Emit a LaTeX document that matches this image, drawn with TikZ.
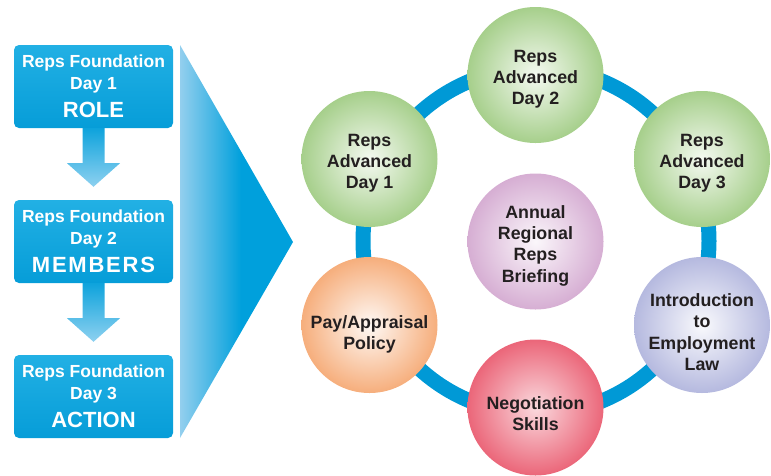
\documentclass[tikz,border=0pt]{standalone}
\usepackage{fontspec}
\setmainfont{Liberation Sans}
\usetikzlibrary{calc}
\definecolor{ringblue}{HTML}{0099D6}
\definecolor{boxtop}{HTML}{22B0E4}
\definecolor{boxbot}{HTML}{069DD8}
\definecolor{chevL}{HTML}{93CFEE}
\definecolor{chevD}{HTML}{00A0DC}
\definecolor{arrT}{HTML}{0EA3DC}
\definecolor{arrB}{HTML}{8ED1F0}
\definecolor{cGreen}{HTML}{A6CF8B}
\definecolor{cPurple}{HTML}{D6AED3}
\definecolor{cOrange}{HTML}{F6AE7C}
\definecolor{cLav}{HTML}{B5B9DF}
\definecolor{cRed}{HTML}{EB6679}
\definecolor{txt}{HTML}{231F20}
\pgfdeclarehorizontalshading{chevshade}{100bp}{color(0bp)=(chevL); color(25bp)=(chevL); color(52bp)=(chevD); color(100bp)=(chevD)}
\tikzset{
  fbox/.style={rounded corners=5pt, minimum width=159pt, minimum height=83pt,
    top color=boxtop, bottom color=boxbot, text=white, align=center,
    font=\fontsize{17.5}{22}\selectfont\bfseries, inner sep=0pt},
  bubble/.style={circle, minimum size=136pt, inner sep=0pt, align=center,
    text=txt, font=\fontsize{17.8}{21.3}\selectfont\bfseries},
  green/.style={bubble, inner color=cGreen!12!white, outer color=cGreen},
  purple/.style={bubble, inner color=cPurple!10!white, outer color=cPurple},
  orange/.style={bubble, inner color=cOrange!8!white, outer color=cOrange},
  lav/.style={bubble, inner color=cLav!8!white, outer color=cLav},
  red/.style={bubble, inner color=cRed!25!white, outer color=cRed},
  downarrow/.style={top color=arrT, bottom color=arrB, draw=none}
}
\newcommand{\bigword}[1]{{\fontsize{22}{22}\selectfont #1}}
\newcommand{\padtop}[1]{\rule{0pt}{#1}}
\begin{document}
\begin{tikzpicture}[x=1pt,y=-1pt]
\useasboundingbox (0,0) rectangle (771,475);
% chevron
\coordinate (cA) at (180,45);
\coordinate (cB) at (293,242);
\coordinate (cC) at (180,438);
\shade[shading=chevshade] (cA) -- (cB) -- (cC) -- cycle;
% foundation boxes
\node[fbox] (f1) at (93.5,86.5) {Reps Foundation\\Day 1\\[6pt]\bigword{ROLE}};
\node[fbox] (f2) at (93.5,241.5) {Reps Foundation\\Day 2\\[6pt]\bigword{\addfontfeature{LetterSpace=8}MEMBERS}};
\node[fbox] (f3) at (93.5,396.5) {Reps Foundation\\Day 3\\[6pt]\bigword{ACTION}};
% arrows
\foreach \a/\b in {f1/f2, f2/f3}{
  \shade[downarrow] ($(\a.south)+(-11,0)$) -- ($(\a.south)+(-11,35)$) -- ($(\a.south)+(-26.5,35)$)
    -- ($(\b.north)+(0,-13)$) -- ($(\a.south)+(26.5,35)$) -- ($(\a.south)+(11,35)$) -- ($(\a.south)+(11,0)$) -- cycle;
}
% ring
\coordinate (rc) at (536,241);
\draw[ringblue, line width=15pt] (rc) circle (173);
% bubbles
\node[green] (a2) at (535.5,75) {\padtop{21pt}Reps\\Advanced\\Day 2};
\node[green] (a1) at (369.5,159) {\padtop{21pt}Reps\\Advanced\\Day 1};
\node[green] (a3) at (702,159) {\padtop{21pt}Reps\\Advanced\\Day 3};
\node[purple] (ar) at (535.5,241.5) {\padtop{21pt}Annual\\Regional\\Reps\\Briefing};
\node[orange] (pp) at (369.5,325) {\padtop{31pt}Pay/Appraisal\\Policy};
\node[lav, inner sep=-5pt] (el) at (702,325) {\padtop{27pt}Introduction\\to\\Employment\\Law};
\node[red] (ns) at (535.5,407.5) {\padtop{25pt}Negotiation\\Skills};
\end{tikzpicture}
\end{document}
